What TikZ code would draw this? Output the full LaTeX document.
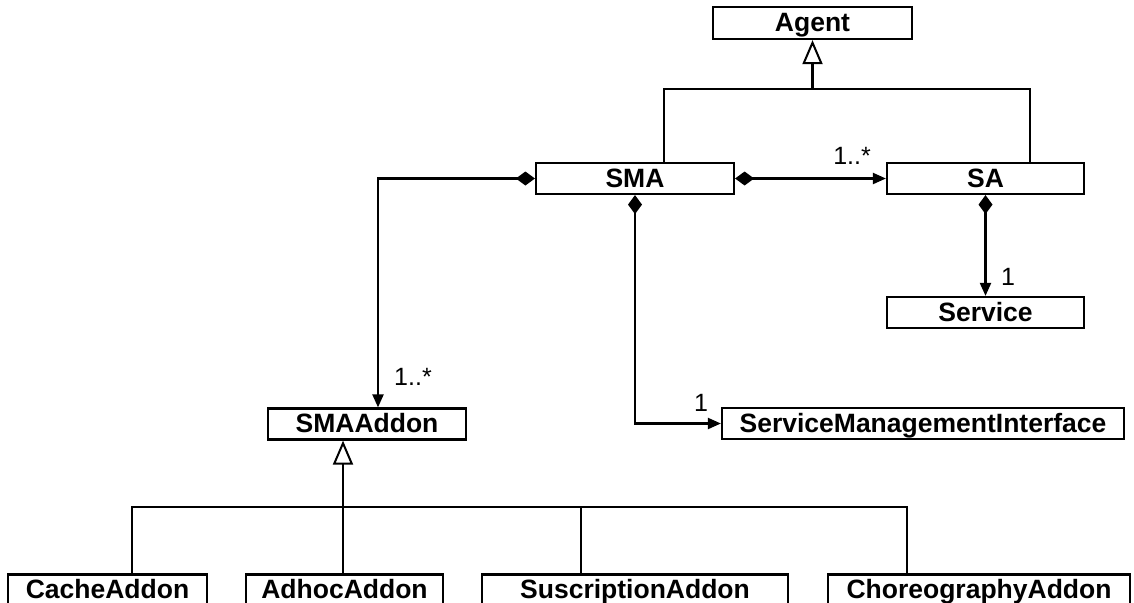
\documentclass[tikz,border=0pt]{standalone}
\usepackage{fontspec}
\setmainfont{Liberation Sans}
\usetikzlibrary{arrows.meta}
\begin{document}
\begin{tikzpicture}[x=1pt,y=-1pt,
  umlclass/.style={draw,line width=2.2pt,inner sep=0pt,minimum height=31pt,
    text height=24pt,text depth=7pt,
    font=\bfseries\fontsize{26.5}{30}\selectfont},
  link/.style={line width=2.1pt},
  composes/.style={link,{Diamond[length=19pt,width=14pt]}-{Triangle[length=13pt,width=11pt]}},
  inherits/.style={link,-{Triangle[open,length=24pt,width=20pt,line width=2pt]}},
  mult/.style={inner sep=0pt,font=\fontsize{25}{28}\selectfont}]
\useasboundingbox (0,0) rectangle (1134,602);
\clip (0,0) rectangle (1134,602);

% classes
\node[umlclass,minimum width=199pt,minimum height=32pt,text height=25pt] (agent) at (812.5,23) {Agent};
\node[umlclass,minimum width=198pt] (sma) at (635,178.5) {SMA};
\node[umlclass,minimum width=197pt] (sa) at (985.5,178.5) {SA};
\node[umlclass,minimum width=197pt] (service) at (985.5,312.5) {Service};
\node[umlclass,minimum width=402pt] (smi) at (923,423.5) {ServiceManagementInterface};
\node[umlclass,minimum width=198pt] (addon) at (367,424) {SMAAddon};
\node[umlclass,minimum width=199pt] (cache) at (107.5,590) {CacheAddon};
\node[umlclass,minimum width=197pt] (adhoc) at (344.5,590) {AdhocAddon};
\node[umlclass,minimum width=306pt] (suscr) at (635,590) {SuscriptionAddon};
\node[umlclass,minimum width=302pt] (choreo) at (979,590) {ChoreographyAddon};

% generalisation towards Agent
\coordinate (agentjoin) at (812.5,89);
\draw[inherits] (agentjoin) -- (agent.south);
\draw[link] ([xshift=29pt]sma.north) |- (agentjoin);
\draw[link] ([xshift=44.5pt]sa.north) |- (agentjoin);

% compositions
\draw[composes] (sma.east) -- (sa.west);
\node[mult] (m1) at (852,156) {1..*};
\draw[composes] (sma.west) -| ([xshift=11pt]addon.north);
\node[mult] (m2) at (413,377) {1..*};
\draw[composes] (sma.south) |- (smi.west);
\node[mult] (m3) at (701,403) {1};
\draw[composes] (sa.south) -- (service.north);
\node[mult] (m4) at (1008,277) {1};

% generalisation towards SMAAddon
\coordinate (addonjoin) at (343,507);
\draw[inherits] (addonjoin) -- (addonjoin |- addon.south);
\draw[link] ([xshift=24.5pt]cache.north) |- (addonjoin);
\draw[link] ([xshift=-1.5pt]adhoc.north) -- (addonjoin);
\draw[link] ([xshift=-54pt]suscr.north) |- (addonjoin);
\draw[link] ([xshift=-72pt]choreo.north) |- (addonjoin);
\end{tikzpicture}
\end{document}
